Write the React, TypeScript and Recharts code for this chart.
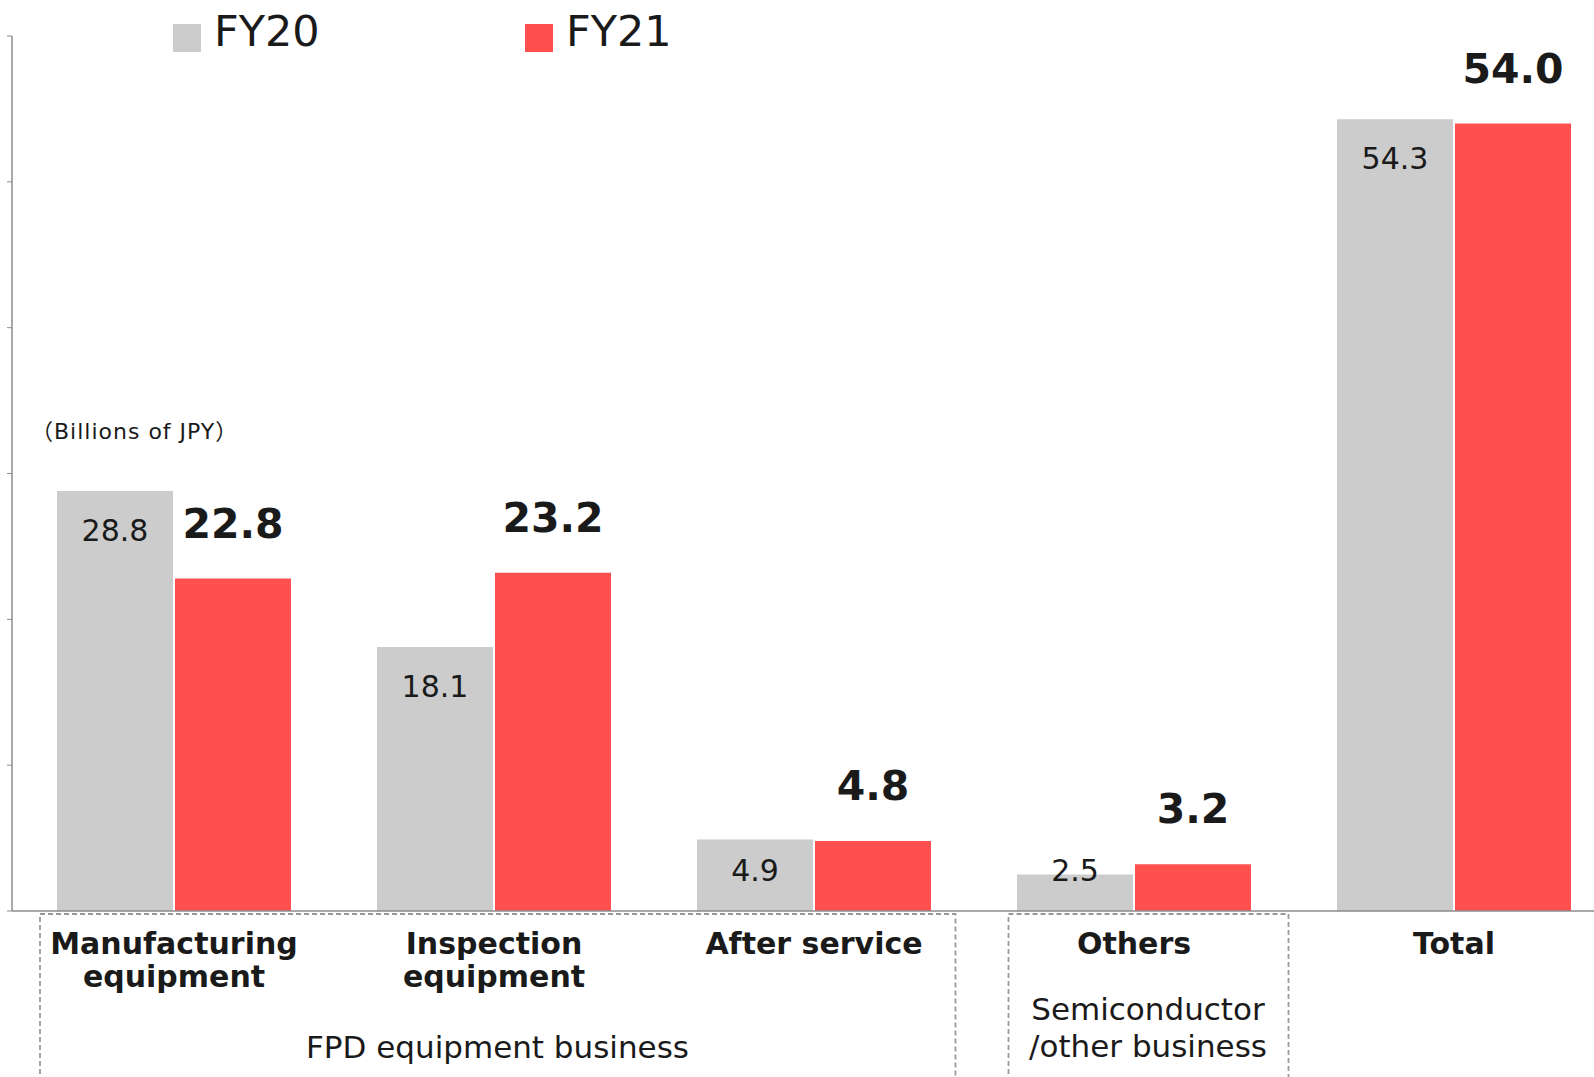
import React from 'react';
import { BarChart, Bar, XAxis, YAxis, Legend, LabelList } from 'recharts';

const categories = ['Manufacturing\nequipment', 'Inspection\nequipment', 'After service', 'Others', 'Total'];
const fy20Values = [28.8, 18.1, 4.9, 2.5, 54.3];
const fy21Values = [22.8, 23.2, 4.8, 3.2, 54.0];
const seriesNames = ['FY20', 'FY21'];
const yTicks = [0, 10, 20, 30, 40, 50, 60];
const unitLabel = '（Billions of JPY）';
const fpdGroupLabel = ['FPD equipment business'];
const otherGroupLabel = ['Semiconductor', '/other business'];

const data = categories.map((name, i) => ({ name, fy20: fy20Values[i], fy21: fy21Values[i] }));

const FONT = '"DejaVu Sans", Verdana, sans-serif';
const TEXT = '#1a1a1a';
const GRAY = '#CCCCCC';
const RED = '#FF5050';

const GrayLabel = (props: any) => {
  const { x, y, width, value } = props;
  const baseline = Math.min(Number(y) + 50, 881);
  return (
    <text x={Number(x) + Number(width) / 2} y={baseline} textAnchor="middle" fontFamily={FONT} fontSize={30} fill={TEXT}>
      {Number(value).toFixed(1)}
    </text>
  );
};

const RedLabel = (props: any) => {
  const { x, y, width, value } = props;
  return (
    <text x={Number(x) + Number(width) / 2} y={Number(y) - 41} textAnchor="middle" fontFamily={FONT} fontWeight="bold" fontSize={41} fill={TEXT}>
      {Number(value).toFixed(1)}
    </text>
  );
};

const CategoryTick = (props: any) => {
  const { x, y, payload } = props;
  const lines = String(payload.value).split('\n');
  return (
    <g>
      {lines.map((l, i) => (
        <text key={i} x={x} y={Number(y) + 43 + i * 33} textAnchor="middle" fontFamily={FONT} fontWeight="bold" fontSize={30} fill={TEXT}>
          {l}
        </text>
      ))}
    </g>
  );
};

const renderLegend = (props: any) => {
  const payload = props.payload || [];
  return (
    <svg width={720} height={64} style={{ display: 'block' }}>
      {payload.map((p: any, i: number) => (
        <g key={i} transform={`translate(${173 + i * 352},0)`}>
          <rect x={0} y={24} width={28} height={28} fill={p.color} />
          <text x={41} y={46} fontFamily={FONT} fontSize={43} fill={TEXT}>
            {p.value}
          </text>
        </g>
      ))}
    </svg>
  );
};

export default function App() {
  return (
    <div style={{ position: 'absolute', left: 0, top: 0, width: 1594, height: 1077, overflow: 'hidden', background: '#fff' }}>
      <BarChart
        width={1614}
        height={1077}
        data={data}
        margin={{ top: 36, right: 0, bottom: 0, left: 0 }}
        barCategoryGap={43}
        barGap={2}
      >
        <XAxis
          dataKey="name"
          height={166}
          padding={{ left: 2, right: 0 }}
          axisLine={{ stroke: '#8c8c8c', strokeWidth: 1.5 }}
          tickLine={false}
          tickSize={0}
          tickMargin={0}
          interval={0}
          tick={<CategoryTick />}
        />
        <YAxis
          width={12}
          domain={[0, 60]}
          ticks={yTicks}
          tickSize={5}
          tickLine={{ stroke: '#8c8c8c' }}
          axisLine={{ stroke: '#8c8c8c', strokeWidth: 1.5 }}
          tickFormatter={() => ''}
        />
        <Legend
          verticalAlign="middle"
          align="center"
          layout="horizontal"
          wrapperStyle={{ top: 0, left: 0, width: 720, height: 64 }}
          content={renderLegend}
        />
        <Bar dataKey="fy20" name={seriesNames[0]} fill={GRAY} isAnimationActive={false}>
          <LabelList dataKey="fy20" content={<GrayLabel />} />
        </Bar>
        <Bar dataKey="fy21" name={seriesNames[1]} fill={RED} isAnimationActive={false}>
          <LabelList dataKey="fy21" content={<RedLabel />} />
        </Bar>
      </BarChart>
      <svg width={1594} height={1077} style={{ position: 'absolute', left: 0, top: 0, pointerEvents: 'none' }}>
        <text x={31} y={439} fontFamily={'"DejaVu Sans", "Noto Sans CJK JP", sans-serif'} fontSize={22} letterSpacing={1} fill={TEXT}>
          {unitLabel}
        </text>
        <g fill="none" stroke="#999" strokeWidth={1.8} strokeDasharray="5 3">
          <polyline points="40,1090 40,914 955.5,914 955.5,1090" />
          <polyline points="1008.5,1090 1008.5,914 1288.5,914 1288.5,1090" />
        </g>
        {fpdGroupLabel.map((l, i) => (
          <text key={i} x={497.5} y={1058} textAnchor="middle" fontFamily={FONT} fontSize={31} fill={TEXT}>{l}</text>
        ))}
        {otherGroupLabel.map((l, i) => (
          <text key={i} x={1148} y={1020 + i * 37} textAnchor="middle" fontFamily={FONT} fontSize={31} fill={TEXT}>{l}</text>
        ))}
      </svg>
    </div>
  );
}
